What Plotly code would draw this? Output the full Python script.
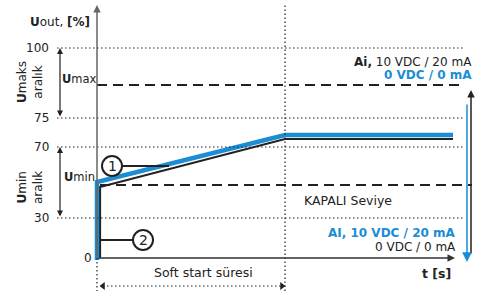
import plotly.graph_objects as go

# ---- schematic data (levels are positions on the schematic value axis) ----
y_tick_labels = ["100", "75", "70", "30", "0"]
y_tick_pos = [210, 140, 111, 40, 0]
u_max_level = 173
kapali_level = 73
t_soft = 188
t_end = 356

# output curves (t, level)
blue_t = [0, 0, t_soft, t_end]
blue_u = [-2, 76, 123, 123]
black_t = [3, 3, t_soft, t_end]
black_u = [0, 71, 119, 119]

BLUE = "#1b8dd4"
DARK = "#222222"
GRAY = "#555555"
FONT = "DejaVu Sans"

fig = go.Figure()

shapes = []
# horizontal dotted reference lines
for pos in y_tick_pos[:-1]:
    shapes.append(dict(type="line", x0=-40, x1=366, y0=pos, y1=pos,
                       line=dict(color=DARK, width=1.2, dash="1.5px,2.5px")))
# vertical dotted lines
shapes.append(dict(type="line", x0=t_soft, x1=t_soft, y0=-33, y1=255,
                   line=dict(color=DARK, width=1.2, dash="1.5px,2.5px")))
shapes.append(dict(type="line", x0=0, x1=0, y0=0, y1=-33,
                   line=dict(color=DARK, width=1.2, dash="1.5px,2.5px")))
# soft start dotted span
shapes.append(dict(type="line", x0=6, x1=185, y0=-28, y1=-28,
                   line=dict(color=DARK, width=1.2, dash="1.5px,2.5px")))
# dashed Umax and KAPALI levels
shapes.append(dict(type="line", x0=0, x1=366, y0=u_max_level, y1=u_max_level,
                   line=dict(color=DARK, width=2, dash="10px,6px")))
shapes.append(dict(type="line", x0=3, x1=375, y0=kapali_level, y1=kapali_level,
                   line=dict(color=DARK, width=2, dash="10px,6px")))
# leader lines for markers 1 and 2
shapes.append(dict(type="line", x0=25, x1=72, y0=92, y1=92,
                   line=dict(color=DARK, width=2)))
shapes.append(dict(type="line", x0=3, x1=36, y0=18, y1=18,
                   line=dict(color=DARK, width=2)))

# curves
fig.add_trace(go.Scatter(x=black_t, y=black_u, mode="lines",
                         line=dict(color=DARK, width=2.2), hoverinfo="skip"))
fig.add_trace(go.Scatter(x=blue_t, y=blue_u, mode="lines",
                         line=dict(color=BLUE, width=4.5), hoverinfo="skip"))
# arrowheads of the soft start span
fig.add_trace(go.Scatter(x=[6, 185], y=[-28, -28], mode="markers",
                         marker=dict(symbol=["triangle-left", "triangle-right"],
                                     size=7, color=DARK), hoverinfo="skip"))

# circles for 1 and 2
shapes.append(dict(type="circle", x0=5, x1=25, y0=82, y1=102,
                   line=dict(color=DARK, width=2), fillcolor="white"))
shapes.append(dict(type="circle", x0=36, x1=56, y0=8, y1=28,
                   line=dict(color=DARK, width=2), fillcolor="white"))

ann = []


def arrow(x, y, ax, ay, color=GRAY, width=1.5, both=False, size=1.0):
    d = dict(x=x, y=y, ax=ax, ay=ay, xref="x", yref="y", axref="x", ayref="y",
             text="", showarrow=True, arrowhead=2, arrowsize=size,
             arrowwidth=width, arrowcolor=color, standoff=0, startstandoff=0)
    if both:
        d.update(arrowside="end+start", startarrowhead=2, startarrowsize=size)
    ann.append(d)


# axes
arrow(0, 253, 0, 0, color="#666666", width=1.5)
arrow(358, 0, 0, 0, color="#333333", width=1.5)
# left range arrows
arrow(-37, 210, -37, 140, color=DARK, width=1.2, both=True)
arrow(-37, 111, -37, 40, color=DARK, width=1.2, both=True)
# right arrows
arrow(374, 168, 374, 3, color=DARK, width=1.5)
arrow(370, -4, 370, 155, color=BLUE, width=1.5, size=1.3)


def text(x, y, s, size=12, color=DARK, xanchor="center", angle=0, align="center"):
    ann.append(dict(x=x, y=y, xref="x", yref="y", text=s, showarrow=False,
                    xanchor=xanchor, yanchor="middle", textangle=angle, align=align,
                    font=dict(family=FONT, size=size, color=color)))


# tick labels
for lab, pos in zip(y_tick_labels, y_tick_pos):
    if lab == "0":
        text(-3, pos, lab, xanchor="right")
    else:
        text(-46, pos, lab, xanchor="right")

text(-37, 236, "<b>U</b>out, <b>[%]</b>", size=12)
text(-18, 179, "<b>U</b>max", size=11.5)
text(-18, 81, "<b>U</b>min", size=11.5)
text(-67, 176, "<b>U</b>maks<br>aralık", size=12, angle=-90)
text(-67, 70, "<b>U</b>min<br>aralık", size=12, angle=-90)
text(15, 92, "1", size=14)
text(46, 18, "2", size=14)
text(106, -14, "Soft start süresi", size=12.5)
text(356, -15, "<b>t [s]</b>", size=12.5, xanchor="right")
text(205, 58, "KAPALI Seviye", size=12.5, xanchor="left")
text(377, 196, "<b>Ai,</b> 10 VDC / 20 mA", size=12, xanchor="right")
text(377, 183, "<b>0 VDC / 0 mA</b>", size=12, color=BLUE, xanchor="right")
text(361, 25, "<b>AI, 10 VDC / 20 mA</b>", size=12, color=BLUE, xanchor="right")
text(361, 11, "0 VDC / 0 mA", size=12, xanchor="right")

fig.update_layout(
    width=478, height=291, autosize=False,
    margin=dict(l=0, r=0, t=0, b=0),
    paper_bgcolor="white", plot_bgcolor="white",
    showlegend=False,
    xaxis=dict(range=[-97, 381], visible=False, fixedrange=True),
    yaxis=dict(range=[-33, 258], visible=False, fixedrange=True),
    shapes=shapes, annotations=ann,
)

fig.write_html("out.html", config={"displayModeBar": False},
               post_script="document.body.style.margin='0px';document.body.style.overflow='hidden';")
